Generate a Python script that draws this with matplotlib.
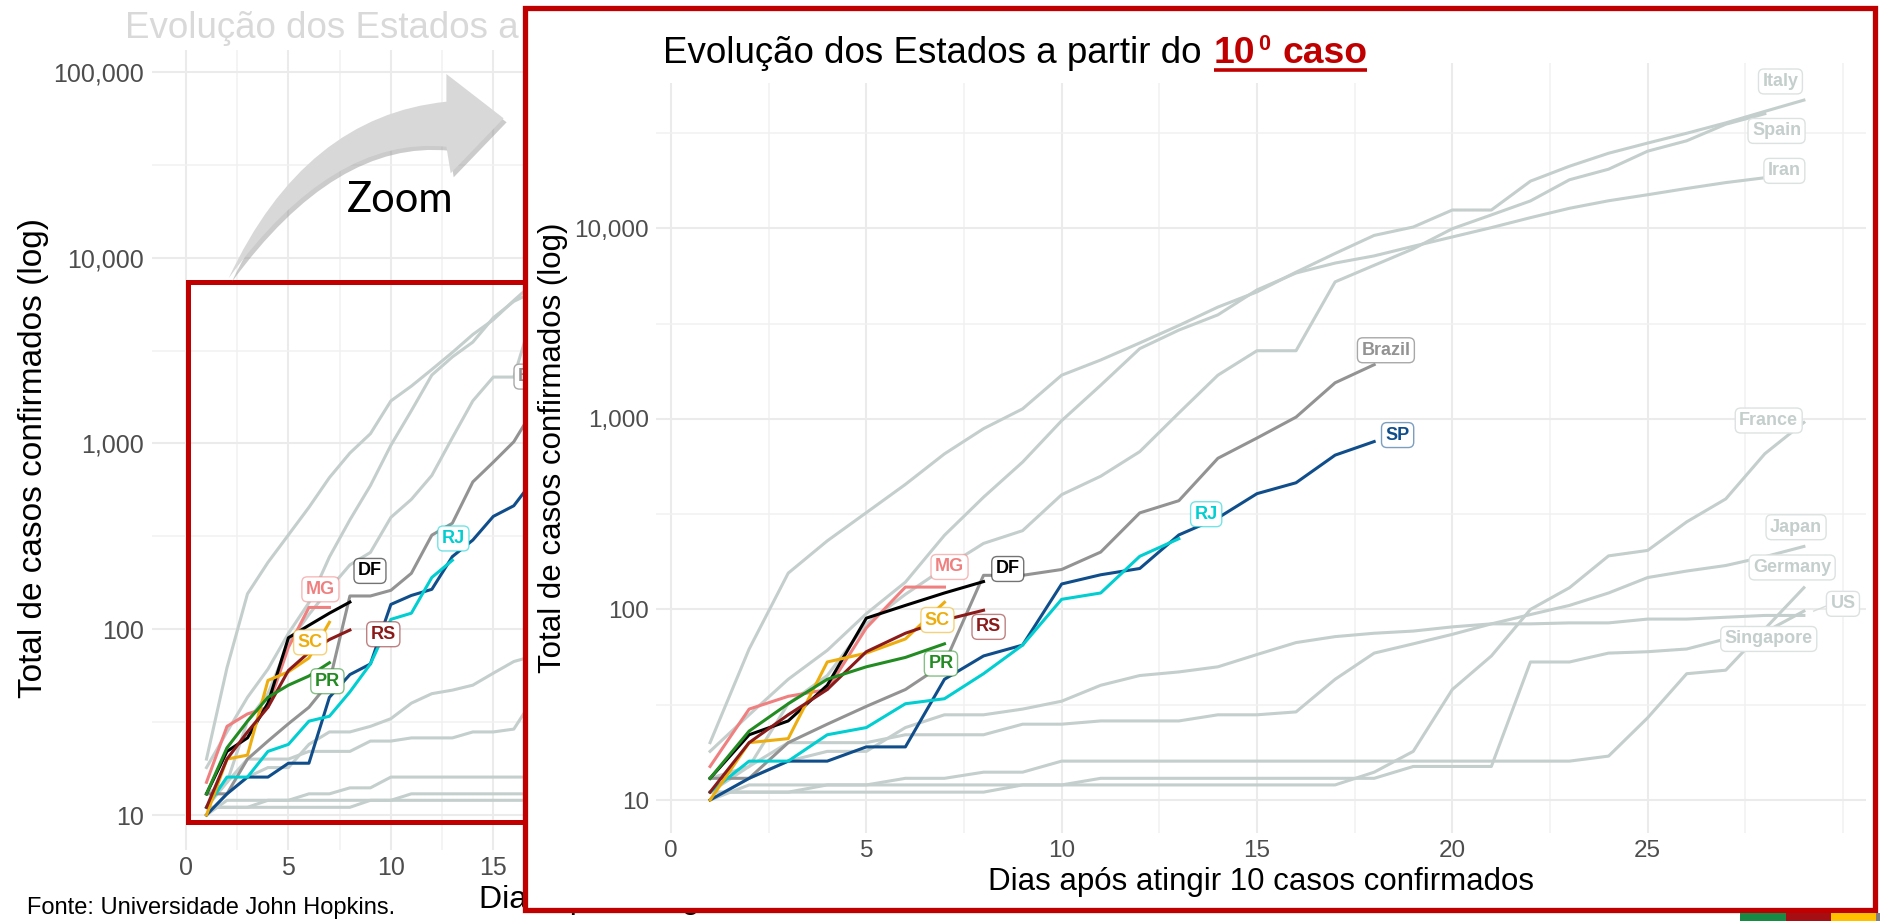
import numpy as np
import matplotlib
matplotlib.use('Agg')
import matplotlib.pyplot as plt
from matplotlib.patches import Rectangle, PathPatch
from matplotlib.path import Path
from matplotlib.ticker import FixedLocator, FuncFormatter, NullFormatter
from matplotlib.colors import to_rgba

plt.rcParams['font.family'] = ['Liberation Sans', 'DejaVu Sans']

W, H = 1880, 921

# cumulative cases, day 1 = first day with >= 10 cases
italy = [20, 62, 155, 229, 322, 453, 655, 888, 1128, 1694, 2036, 2502, 3089, 3858, 4636,
         5883, 7375, 9172, 10149, 12462, 12462, 17660, 21157, 24747, 27980, 31506, 35713,
         41035, 47021]
spain = [13, 15, 32, 45, 84, 120, 165, 222, 259, 400, 500, 673, 1073, 1695, 2277, 2277,
         5232, 6391, 7798, 9942, 11748, 13910, 17963, 20410, 25374, 28768, 35136, 39885]
iran = [18, 28, 43, 61, 95, 139, 245, 388, 593, 978, 1501, 2336, 2922, 3513, 4747, 5823,
        6566, 7161, 8042, 9000, 10075, 11364, 12729, 13938, 14991, 16169, 17361, 18407]
france = [11, 11, 11, 11, 11, 11, 11, 11, 12, 12, 12, 12, 12, 12, 12, 12, 12, 14, 18, 38,
          57, 100, 130, 191, 204, 288, 380, 656, 957]
japan = [11, 15, 20, 20, 20, 22, 22, 22, 25, 25, 26, 26, 26, 28, 28, 29, 43, 59, 66, 74,
         84, 94, 105, 122, 147, 159, 170, 189, 214]
germany = [10, 12, 12, 12, 12, 13, 13, 14, 14, 16, 16, 16, 16, 16, 16, 16, 16, 16, 16, 16,
           16, 16, 16, 17, 27, 46, 48, 79, 130]
us = [11, 11, 11, 12, 12, 12, 12, 12, 12, 12, 13, 13, 13, 13, 13, 13, 13, 13, 15, 15, 15,
      53, 53, 59, 60, 62, 70, 76, 98]
singapore = [10, 13, 16, 18, 18, 24, 28, 28, 30, 33, 40, 45, 47, 50, 58, 67, 72, 75, 77,
             81, 84, 84, 85, 85, 89, 89, 91, 93, 93]
brazil = [13, 13, 20, 25, 31, 38, 52, 151, 151, 162, 200, 321, 372, 621, 793, 1021, 1546, 1924]

sp = [10, 13, 16, 16, 19, 19, 43, 57, 65, 136, 152, 164, 246, 302, 405, 462, 645, 760]
rj = [11, 16, 16, 22, 24, 32, 34, 46, 65, 113, 122, 190, 235]
mg = [15, 30, 35, 38, 80, 131, 131]
df = [13, 22, 26, 40, 90, 105, 122, 140]
sc = [10, 20, 21, 53, 59, 70, 109]
rs = [11, 20, 28, 38, 60, 75, 88, 99]
pr = [13, 23, 32, 43, 50, 56, 66]

countries = ['Italy', 'Spain', 'Iran', 'France', 'Japan', 'Germany', 'US', 'Singapore']
country_cases = [italy, spain, iran, france, japan, germany, us, singapore]
states = ['SP', 'RJ', 'MG', 'DF', 'SC', 'RS', 'PR']
state_cases = [sp, rj, mg, df, sc, rs, pr]
state_colors = ['#104E8B', '#00CED1', '#F08080', '#000000', '#EEAD0E', '#8B1A1A', '#228B22']

# label positions (day, cases) as placed in each chart
fg_labels = {'Italy': (28.4, 58900), 'Spain': (28.3, 32400), 'Iran': (28.5, 20000),
             'France': (28.1, 980), 'Japan': (28.8, 270), 'Germany': (28.7, 166),
             'US': (30.0, 107), 'Singapore': (28.1, 70), 'Brazil': (18.3, 2290),
             'SP': (18.6, 822), 'RJ': (13.7, 316), 'MG': (7.13, 167), 'DF': (8.62, 163),
             'SC': (6.82, 88), 'RS': (8.13, 81), 'PR': (6.91, 52)}
bg_labels = {'Brazil': (17.4, 2290), 'RJ': (13.05, 308), 'MG': (6.56, 164), 'DF': (8.98, 206),
             'SC': (6.06, 85), 'RS': (9.63, 94), 'PR': (6.9, 52.5)}

GRAY = '#C4CECC'
BR_GRAY = '#939393'
RED = '#C00000'
LW = 2.2

fig = plt.figure(figsize=(W / 100, H / 100), dpi=100)


def px_axes(l, t, r, b):
    return fig.add_axes([l / W, 1 - b / H, (r - l) / W, (b - t) / H])


def label_style(name):
    if name in countries:
        return GRAY, '#DCE2E1'
    if name == 'Brazil':
        return BR_GRAY, '#A8A8A8'
    c = state_colors[states.index(name)]
    return c, to_rgba(c, 0.55)


def draw_chart(ax, labels, ylo, yhi, xlo, xhi, tick_fs):
    for vals in country_cases:
        ax.plot(np.arange(1, len(vals) + 1), vals, color=GRAY, lw=LW, zorder=2)
    ax.plot(np.arange(1, len(brazil) + 1), brazil, color=BR_GRAY, lw=LW, zorder=3)
    for vals, c in zip(state_cases, state_colors):
        ax.plot(np.arange(1, len(vals) + 1), vals, color=c, lw=LW, zorder=4)
    for name, (x, y) in labels.items():
        tc, ec = label_style(name)
        ax.text(x, y, name, ha='center', va='center', fontsize=13, weight='bold', color=tc,
                zorder=6, bbox=dict(boxstyle='round,pad=0.22,rounding_size=0.3', fc='white',
                                    ec=ec, lw=1.0))
    ax.set_yscale('log')
    ax.set_ylim(ylo, yhi)
    ax.set_xlim(xlo, xhi)
    ax.yaxis.set_major_locator(FixedLocator([10, 100, 1000, 10000, 100000]))
    ax.yaxis.set_minor_locator(FixedLocator([10 ** 1.5, 10 ** 2.5, 10 ** 3.5, 10 ** 4.5]))
    ax.yaxis.set_major_formatter(FuncFormatter(lambda v, p: f'{v:,.0f}'))
    ax.yaxis.set_minor_formatter(NullFormatter())
    ax.xaxis.set_major_locator(FixedLocator([0, 5, 10, 15, 20, 25]))
    ax.xaxis.set_minor_locator(FixedLocator([2.5, 7.5, 12.5, 17.5, 22.5, 27.5, 30]))
    ax.grid(True, which='major', color='#EBEBEB', lw=1.5)
    ax.grid(True, which='minor', color='#F1F1F1', lw=1.1)
    ax.set_axisbelow(True)
    for s in ax.spines.values():
        s.set_visible(False)
    ax.tick_params(which='both', length=0, labelsize=tick_fs, labelcolor='#4D4D4D')


# background (zoomed-out) chart
ax_bg = px_axes(152, 50, 1364, 850)
ax_bg.set_zorder(1)
draw_chart(ax_bg, bg_labels, 10 ** 0.8116, 10 ** 5.118, -1.66, 57.5, 18)
ax_bg.tick_params(axis='x', pad=4)
ax_bg.tick_params(axis='y', pad=6)
ax_bg.set_xlabel('Dias após atingir 10 casos confirmados', fontsize=23, va='center')
ax_bg.xaxis.set_label_coords(0.5, -50 / 800)
ax_bg.set_ylabel('Total de casos confirmados (log)', fontsize=24, va='center')
ax_bg.yaxis.set_label_coords(-118 / 1212, 0.49)

# overlay between background and inset
ax_over = fig.add_axes([0, 0, 1, 1])
ax_over.set_zorder(2)
ax_over.set_xlim(0, W)
ax_over.set_ylim(H, 0)
ax_over.axis('off')
ax_over.text(125, 38, 'Evolução dos Estados a partir do 10º caso', fontsize=26.5,
             color='#D9D9D9', va='baseline', ha='left', zorder=1)
ax_over.add_patch(Rectangle((188, 282), 420, 540, fill=False, ec=RED, lw=3.6, zorder=2))

# curved "zoom" arrow
arrow_verts = [(228.6, 278.3), (304.5, 116), (446.4, 101.7), (446.4, 74), (503.6, 118.3),
               (450.7, 173.3), (446.4, 146.7), (332.5, 135.5), (228.6, 278.3), (228.6, 278.3)]
arrow_codes = [Path.MOVETO, Path.CURVE3, Path.CURVE3, Path.LINETO, Path.LINETO, Path.LINETO,
               Path.LINETO, Path.CURVE3, Path.CURVE3, Path.CLOSEPOLY]
shadow = [(x + 3, y + 4) for x, y in arrow_verts]
ax_over.add_patch(PathPatch(Path(shadow, arrow_codes), fc='#8C8C8C', ec='none', alpha=0.45,
                            zorder=3))
ax_over.add_patch(PathPatch(Path(arrow_verts, arrow_codes), fc='#D8D8D8', ec='none', zorder=4))
ax_over.text(347, 212, 'Zoom', fontsize=30, family=['Lato', 'DejaVu Sans'], va='baseline',
             ha='left', color='black', zorder=4)
ax_over.text(27, 908, 'Fonte: Universidade John Hopkins.', fontsize=17, va='center',
             ha='left', color='black', zorder=4)
ax_over.add_patch(Rectangle((524.5, 8.5), 1350.5, 901.5, fc='white', ec='none', zorder=5))

# inset (zoomed-in) chart
ax_fg = px_axes(656, 63, 1866, 833)
ax_fg.set_zorder(3)
ax_fg.set_facecolor('none')
draw_chart(ax_fg, fg_labels, 10 ** 0.827, 10 ** 4.867, -0.384, 30.59, 17.5)
ax_fg.tick_params(axis='x', pad=5)
ax_fg.tick_params(axis='y', pad=5)
# ggrepel leader for US
ax_fg.plot([len(us) + 0.25, fg_labels['US'][0] - 0.45], [us[-1], fg_labels['US'][1] * 0.97],
           color='#D6DDDC', lw=1.0, zorder=5)
ax_fg.set_xlabel('Dias após atingir 10 casos confirmados', fontsize=22.5, va='center')
ax_fg.xaxis.set_label_coords(0.5, -49 / 770)
ax_fg.set_ylabel('Total de casos confirmados (log)', fontsize=22.5, va='center')
ax_fg.yaxis.set_label_coords(-103 / 1210, 0.5)

# top overlay: inset title, frame, corner strips
ax_top = fig.add_axes([0, 0, 1, 1])
ax_top.set_zorder(4)
ax_top.set_xlim(0, W)
ax_top.set_ylim(H, 0)
ax_top.axis('off')
ax_top.add_patch(Rectangle((530, 12), 865, 71, fc='white', ec='none', zorder=1))
ax_top.add_patch(Rectangle((524.5, 8.5), 1350.5, 901.5, fill=False, ec=RED, lw=3.8, zorder=5))
strip_colors = ['#178A46', '#A50E12', '#FFC000', '#7F7F7F']
strip_edges = [1740, 1786, 1831, 1876, 1880]
for i, c in enumerate(strip_colors):
    ax_top.add_patch(Rectangle((strip_edges[i], 913), strip_edges[i + 1] - strip_edges[i], 8,
                               fc=c, ec='none', zorder=5))

t1 = ax_top.text(663, 63, 'Evolução dos Estados a partir do', fontsize=26.5, va='baseline',
                 ha='left', color='black', zorder=2)
fig.canvas.draw()
rend = fig.canvas.get_renderer()
x_end = t1.get_window_extent(rend).x1
t2 = ax_top.text(x_end + 12, 63, '10', fontsize=26.8, weight='bold', color=RED,
                 va='baseline', ha='left', zorder=2)
bb2 = t2.get_window_extent(rend)
t3 = ax_top.text(bb2.x1 + 3, 50, '0', fontsize=15.5, weight='bold', color=RED,
                 va='baseline', ha='left', zorder=2)
bb3 = t3.get_window_extent(rend)
t4 = ax_top.text(bb3.x1 + 12, 63, 'caso', fontsize=26.8, weight='bold', color=RED,
                 va='baseline', ha='left', zorder=2)
bb4 = t4.get_window_extent(rend)
ax_top.plot([bb2.x0, bb4.x1], [70, 70], color=RED, lw=2.6, solid_capstyle='butt', zorder=2)

fig.savefig('out.png', dpi=100)
